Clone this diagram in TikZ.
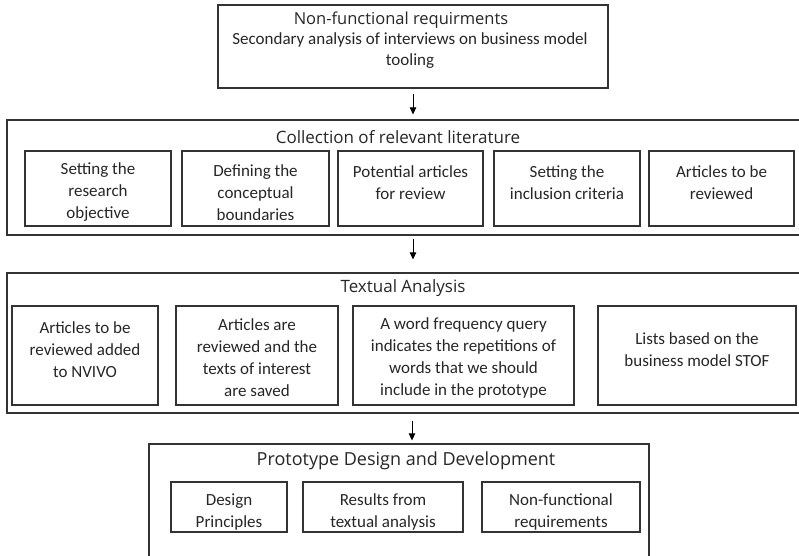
\documentclass[tikz,border=0pt]{standalone}
\usepackage{fontspec}
\setmainfont{Carlito}
\newfontfamily\headfont{Open Sans}
\usetikzlibrary{arrows.meta}
\definecolor{edge}{gray}{0.2}
\definecolor{ink}{gray}{0.15}
\tikzset{
  frame/.style={draw=edge, line width=1.2pt, inner sep=0pt},
  stepbox/.style={draw=edge, line width=1.1pt, inner sep=0pt},
  boxtext/.style={inner sep=0pt, align=center, font=\fontsize{17}{22}\selectfont, text=ink},
  heading/.style={inner sep=0pt, font=\headfont\fontsize{17}{20}\selectfont, text=ink},
  flow/.style={draw=black, line width=0.8pt, -{Triangle[length=7pt,width=6.5pt]}},
}
\begin{document}
\begin{tikzpicture}[x=1pt,y=-1pt]
\useasboundingbox (0,0) rectangle (799,555);
\clip (0,0) rectangle (799,555);

% source of the non-functional requirements
\node[stepbox, minimum width=390pt, minimum height=83pt] (src) at (413,46.5) {};
\node[heading, font=\headfont\fontsize{16.5}{20}\selectfont] (srct) at (401,20) {Non-functional requirments};
\node[boxtext, font=\fontsize{17}{21}\selectfont] (srcs) at (410,50.5)
  {Secondary analysis of interviews on business model\\tooling};

% stage 1: literature collection
\node[frame, minimum width=796pt, minimum height=115pt] (coll) at (405,177.5) {};
\node[heading] (collt) at (398,137) {Collection of relevant literature};
\node[stepbox, minimum width=146pt, minimum height=75pt] (c1) at (98,188.5) {};
\node[stepbox, minimum width=147pt, minimum height=75pt] (c2) at (255.5,188.5) {};
\node[stepbox, minimum width=145pt, minimum height=75pt] (c3) at (410.5,188.5) {};
\node[stepbox, minimum width=146pt, minimum height=75pt] (c4) at (567,188.5) {};
\node[stepbox, minimum width=145pt, minimum height=75pt] (c5) at (721.5,188.5) {};
\node[boxtext] (c1t) at ([yshift=-4pt]c1.center) {Setting the\\research\\objective};
\node[boxtext] (c2t) at ([yshift=-4pt]c2.center) {Defining the\\conceptual\\boundaries};
\node[boxtext] (c3t) at ([yshift=6pt]c3.center) {Potential articles\\for review};
\node[boxtext] (c4t) at ([yshift=6pt]c4.center) {Setting the\\inclusion criteria};
\node[boxtext] (c5t) at ([yshift=6pt]c5.center) {Articles to be\\reviewed};

% stage 2: textual analysis
\node[frame, minimum width=796pt, minimum height=140pt] (txt) at (405,343) {};
\node[heading] (txtt) at (403,288) {Textual Analysis};
\node[stepbox, minimum width=146pt, minimum height=99pt] (t1) at (85,355.5) {};
\node[stepbox, minimum width=162pt, minimum height=99pt] (t2) at (257,355.5) {};
\node[stepbox, minimum width=221pt, minimum height=99pt] (t3) at (463.5,355.5) {};
\node[stepbox, minimum width=198pt, minimum height=99pt] (t4) at (697,355.5) {};
\node[boxtext] (t1t) at ([yshift=6pt]t1.center) {Articles to be\\reviewed added\\to NVIVO};
\node[boxtext] (t2t) at ([yshift=-2pt]t2.center) {Articles are\\reviewed and the\\texts of interest\\are saved};
\node[boxtext] (t3t) at ([yshift=-2.5pt]t3.center) {A word frequency query\\indicates the repetitions of\\words that we should\\include in the prototype};
\node[boxtext] (t4t) at ([yshift=6pt]t4.center) {Lists based on the\\business model STOF};

% stage 3: prototype
\node[frame, minimum width=500pt, minimum height=118pt] (proto) at (399,503) {};
\node[heading, font=\headfont\fontsize{18}{20}\selectfont] (protot) at (406,460.5) {Prototype Design and Development};
\node[stepbox, minimum width=116pt, minimum height=50pt] (p1) at (229,507) {};
\node[stepbox, minimum width=160pt, minimum height=50pt] (p2) at (383,507) {};
\node[stepbox, minimum width=158pt, minimum height=50pt] (p3) at (561,507) {};
\node[boxtext] (p1t) at ([yshift=-5pt]p1.center) {Design\\Principles};
\node[boxtext] (p2t) at ([yshift=-5pt]p2.center) {Results from\\textual analysis};
\node[boxtext] (p3t) at ([yshift=-5pt]p3.center) {Non-functional\\requirements};

% flow between stages
\draw[flow, shorten <=5pt, shorten >=5pt] (src.south) -- (src.south |- coll.north);
\draw[flow, shorten <=3pt, shorten >=13pt] ([xshift=8pt]coll.south) -- ([xshift=8pt]coll.south |- txt.north);
\draw[flow, shorten <=7pt, shorten >=3pt] ([xshift=7pt]txt.south) -- ([xshift=7pt]txt.south |- proto.north);
\end{tikzpicture}
\end{document}
